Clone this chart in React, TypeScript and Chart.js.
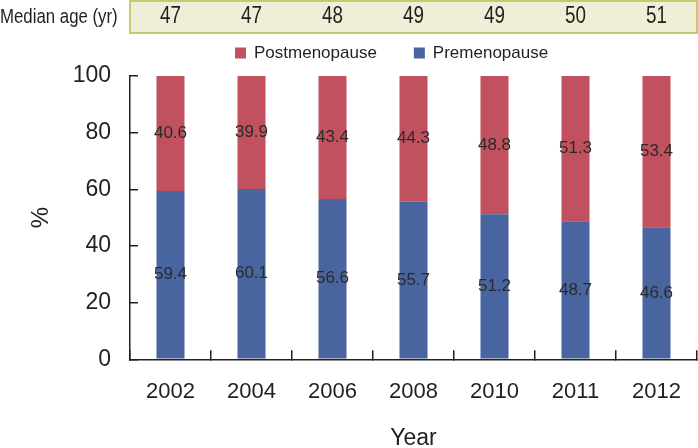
import React, { useEffect, useRef } from "react";
import { Chart, registerables } from "chart.js";

Chart.register(...registerables);

const years = ["2002", "2004", "2006", "2008", "2010", "2011", "2012"];
const medianAge = [47, 47, 48, 49, 49, 50, 51];
const premenopause = [59.4, 60.1, 56.6, 55.7, 51.2, 48.7, 46.6];
const postmenopause = [40.6, 39.9, 43.4, 44.3, 48.8, 51.3, 53.4];
const medianLabel = "Median age (yr)";

const TEXT = "#231f20";
const RED = "#c1515f";
const BLUE = "#4965a0";
const FAMILY = "'Liberation Sans', Arial, Helvetica, sans-serif";

function hasFont(name: string): boolean {
  const c = document.createElement("canvas").getContext("2d");
  if (!c) return false;
  c.font = `20px '${name}', monospace`;
  const a = c.measureText("Median age (yr) 0123").width;
  c.font = `20px '${name}', serif`;
  const b = c.measureText("Median age (yr) 0123").width;
  return Math.abs(a - b) < 0.01;
}

export default function App() {
  const ref = useRef<HTMLCanvasElement | null>(null);

  useEffect(() => {
    if (!ref.current) return;
    const narrow = hasFont("Liberation Sans Narrow");

    const narrowText = (
      ctx: CanvasRenderingContext2D,
      text: string,
      x: number,
      y: number,
      size: number,
      align: CanvasTextAlign
    ) => {
      ctx.save();
      ctx.textAlign = align;
      ctx.textBaseline = "middle";
      ctx.fillStyle = TEXT;
      if (narrow) {
        ctx.font = `${size}px 'Liberation Sans Narrow'`;
        ctx.fillText(text, x, y);
      } else {
        ctx.font = `${size}px ${FAMILY}`;
        ctx.translate(x, y);
        ctx.scale(0.82, 1);
        ctx.fillText(text, 0, 0);
      }
      ctx.restore();
    };

    const headerPlugin = {
      id: "header",
      afterDraw(chart: any) {
        const ctx: CanvasRenderingContext2D = chart.ctx;
        const area = chart.chartArea;
        const xs = chart.scales.x;
        ctx.save();
        ctx.fillStyle = "#efefd8";
        ctx.strokeStyle = "#c8c86e";
        ctx.lineWidth = 2;
        ctx.fillRect(area.left, 1, area.right - area.left, 32);
        ctx.strokeRect(area.left, 1, area.right - area.left, 32);
        ctx.restore();
        narrowText(ctx, medianLabel, 0, 17, 20.5, "left");
        medianAge.forEach((v, i) => {
          narrowText(ctx, String(v), xs.getPixelForValue(i), 17, 23, "center");
        });

        // legend (Postmenopause first)
        ctx.save();
        ctx.font = `17px ${FAMILY}`;
        ctx.textBaseline = "middle";
        ctx.textAlign = "left";
        const items = [chart.data.datasets[1], chart.data.datasets[0]];
        let x = 235;
        const y = 53;
        items.forEach((ds: any) => {
          ctx.fillStyle = ds.backgroundColor;
          ctx.fillRect(x, y - 5.5, 11, 11);
          ctx.fillStyle = TEXT;
          ctx.fillText(ds.label, x + 19, y);
          x += 19 + ctx.measureText(ds.label).width + 37;
        });
        ctx.restore();
      },
    };

    const valuePlugin = {
      id: "values",
      afterDatasetsDraw(chart: any) {
        const ctx: CanvasRenderingContext2D = chart.ctx;
        ctx.save();
        ctx.font = `17px ${FAMILY}`;
        ctx.fillStyle = "#2a2a2a";
        ctx.textAlign = "center";
        ctx.textBaseline = "middle";
        chart.data.datasets.forEach((ds: any, di: number) => {
          const meta = chart.getDatasetMeta(di);
          meta.data.forEach((el: any, i: number) => {
            const p = el.getProps(["x", "y", "base"], true);
            ctx.fillText(ds.data[i].toFixed(1), p.x, (p.y + p.base) / 2);
          });
        });
        ctx.restore();
      },
    };

    const chart = new Chart(ref.current, {
      type: "bar",
      data: {
        labels: years,
        datasets: [
          {
            label: "Premenopause",
            data: premenopause,
            backgroundColor: BLUE,
            barPercentage: 0.346,
            categoryPercentage: 1,
          },
          {
            label: "Postmenopause",
            data: postmenopause,
            backgroundColor: RED,
            barPercentage: 0.346,
            categoryPercentage: 1,
          },
        ],
      },
      options: {
        animation: false,
        responsive: true,
        maintainAspectRatio: false,
        layout: { padding: { top: 76, right: 1, left: 0, bottom: 0 } },
        plugins: {
          legend: { display: false },
          tooltip: { enabled: false },
        },
        scales: {
          x: {
            stacked: true,
            grid: {
              display: true,
              drawOnChartArea: false,
              drawTicks: true,
              tickLength: -9,
              color: TEXT,
              lineWidth: 1.5,
              offset: true,
            },
            border: { display: true, color: TEXT, width: 1.5 },
            ticks: {
              padding: 28.5,
              color: TEXT,
              font: { size: 22, family: FAMILY },
            },
            title: {
              display: true,
              text: "Year",
              color: TEXT,
              font: { size: 23, family: FAMILY, lineHeight: 1 },
              padding: { top: 0, bottom: -2 },
            },
            afterFit: (s: any) => {
              s.height = 88.7;
              s.paddingLeft = 0;
              s.paddingRight = 0;
            },
          },
          y: {
            stacked: true,
            min: 0,
            max: 100,
            grid: {
              display: true,
              drawOnChartArea: false,
              drawTicks: true,
              tickLength: -8,
              color: TEXT,
              lineWidth: 1.5,
            },
            border: { display: true, color: TEXT, width: 1.5 },
            ticks: {
              stepSize: 20,
              padding: 27,
              color: TEXT,
              font: { size: 23, family: FAMILY },
            },
            title: {
              display: true,
              text: "%",
              color: TEXT,
              font: { size: 24, family: FAMILY, lineHeight: 1 },
              padding: { top: 29, bottom: 0 },
            },
            afterFit: (s: any) => {
              s.width = 130;
              s.paddingTop = 0;
              s.paddingBottom = 0;
            },
          },
        },
      },
      plugins: [headerPlugin, valuePlugin],
    });

    return () => chart.destroy();
  }, []);

  return (
    <div
      style={{
        position: "fixed",
        left: 0,
        top: 0,
        width: 698,
        height: 448,
        background: "#ffffff",
      }}
    >
      <canvas ref={ref} />
    </div>
  );
}
